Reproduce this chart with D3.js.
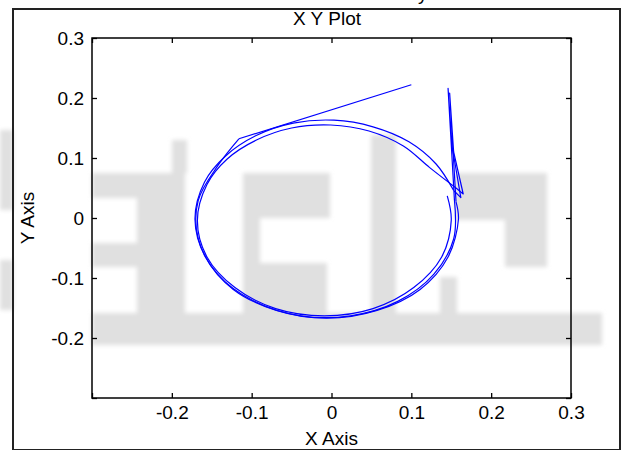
<!DOCTYPE html>
<html>
<head>
<meta charset="utf-8">
<script src="https://cdn.jsdelivr.net/npm/d3@7/dist/d3.min.js"></script>
<style>
    body { margin: 0; background: #fff; }
    svg { display: block; }
    text { font-family: "Liberation Sans", Arial, sans-serif; fill: #000; }
</style>
</head>
<body>
<div id="chart"></div>
<script>
// Chart text
const titleText = "X Y Plot";
const xLabel = "X Axis";
const yLabel = "Y Axis";

// Tick values (the -0.3 ends get a tick but no label)
const xTicks = [-0.3, -0.2, -0.1, 0, 0.1, 0.2, 0.3];
const yTicks = [-0.3, -0.2, -0.1, 0, 0.1, 0.2, 0.3];

// Trajectory, piece by piece
// lead-in line
const leadX = [0.100, -0.116];
const leadY = [0.222, 0.132];
// first loop, down the left side and up to the spike
const loop1X = [-0.116, -0.142, -0.167, -0.167, -0.143, -0.098, -0.039, 0.024, 0.083, 0.128, 0.153, 0.154];
const loop1Y = [0.132, 0.088, 0.029, -0.034, -0.093, -0.138, -0.163, -0.163, -0.139, -0.094, -0.035, 0.030];
// first spike
const spike1X = [0.154, 0.146, 0.151, 0.162, 0.153];
const spike1Y = [0.030, 0.216, 0.120, 0.034, 0.046];
// second (outer) loop
const loop2X = [0.153, 0.131, 0.097, 0.052, 0.003, -0.048, -0.095, -0.133, -0.159, -0.171, -0.158, -0.123, -0.069, -0.006, 0.057, 0.111, 0.146, 0.159, 0.156];
const loop2Y = [0.046, 0.090, 0.127, 0.152, 0.163, 0.158, 0.137, 0.103, 0.060, -0.002, -0.065, -0.119, -0.154, -0.167, -0.154, -0.119, -0.065, -0.002, 0.027];
// second spike
const spike2X = [0.156, 0.148, 0.153, 0.165, 0.156];
const spike2Y = [0.027, 0.208, 0.110, 0.040, 0.050];
// third (inner) loop
const loop3X = [0.156, 0.123, 0.090, 0.047, -0.001, -0.050, -0.094, -0.131, -0.156, -0.168, -0.156, -0.121, -0.070, -0.009, 0.052, 0.103, 0.138, 0.150, 0.145];
const loop3Y = [0.050, 0.084, 0.120, 0.145, 0.155, 0.150, 0.130, 0.098, 0.056, -0.004, -0.065, -0.116, -0.151, -0.163, -0.151, -0.116, -0.065, -0.004, 0.037];

// Faint scanned watermark behind the plot, in page pixels [x, y, w, h]
const watermarkBlocks = [
    [0, 130, 13, 80], [0, 260, 13, 50],
    [92, 173, 93, 25], [137, 198, 48, 115], [92, 243, 45, 24], [172, 140, 15, 33],
    [243, 173, 87, 45], [243, 218, 17, 95], [260, 263, 67, 50],
    [371, 135, 25, 178],
    [455, 173, 92, 47], [505, 220, 42, 47], [440, 277, 17, 36],
    [92, 313, 510, 32]
];

const width = 624, height = 450;
const plot = { left: 92, top: 38, right: 571, bottom: 398 };

const svg = d3.select("#chart")
    .append("svg")
    .attr("width", width)
    .attr("height", height);

// blur for the watermark edges
const defs = svg.append("defs");
defs.append("filter").attr("id", "soft")
    .append("feGaussianBlur").attr("stdDeviation", 2);

svg.append("g")
    .attr("filter", "url(#soft)")
    .selectAll("rect")
    .data(watermarkBlocks)
    .join("rect")
    .attr("x", d => d[0]).attr("y", d => d[1])
    .attr("width", d => d[2]).attr("height", d => d[3])
    .attr("fill", "#e0e0e0");

// Outer frame of the figure
svg.append("rect")
    .attr("x", 13).attr("y", 9)
    .attr("width", 607).attr("height", 441)
    .attr("fill", "none")
    .attr("stroke", "#222")
    .attr("stroke-width", 2);

// Cut-off glyph from the text above the figure
svg.append("text")
    .attr("x", 418).attr("y", 0)
    .style("font-size", "19px")
    .text("y");

// Scales
const x = d3.scaleLinear().domain([-0.3, 0.3]).range([plot.left, plot.right]);
const y = d3.scaleLinear().domain([-0.3, 0.3]).range([plot.bottom, plot.top]);

const fmt = d => (d <= -0.3 ? "" : String(+d.toFixed(1)));

function styleAxis(g) {
    g.select(".domain").remove();
    g.selectAll(".tick line").attr("stroke", "#000").attr("stroke-width", 1.3);
    g.selectAll(".tick text").style("font-size", "19px").attr("fill", "#000");
}

svg.append("g")
    .attr("transform", `translate(0,${plot.bottom})`)
    .call(d3.axisBottom(x).tickValues(xTicks).tickFormat(fmt).tickSize(-5).tickPadding(8))
    .call(styleAxis);

svg.append("g")
    .attr("transform", `translate(0,${plot.top})`)
    .call(d3.axisTop(x).tickValues(xTicks).tickFormat("").tickSize(-5))
    .call(styleAxis);

svg.append("g")
    .attr("transform", `translate(${plot.left},0)`)
    .call(d3.axisLeft(y).tickValues(yTicks).tickFormat(fmt).tickSize(-5).tickPadding(8))
    .call(styleAxis);

svg.append("g")
    .attr("transform", `translate(${plot.right},0)`)
    .call(d3.axisRight(y).tickValues(yTicks).tickFormat("").tickSize(-5))
    .call(styleAxis);

// Axes box
svg.append("rect")
    .attr("x", plot.left).attr("y", plot.top)
    .attr("width", plot.right - plot.left)
    .attr("height", plot.bottom - plot.top)
    .attr("fill", "none")
    .attr("stroke", "#000")
    .attr("stroke-width", 1.5);

// The trajectory: straight pieces for the lead-in and spikes, smooth loops
const zip = (xs, ys) => xs.map((v, i) => [v, ys[i]]);
const segments = [
    { pts: zip(leadX, leadY), smooth: false },
    { pts: zip(loop1X, loop1Y), smooth: true },
    { pts: zip(spike1X, spike1Y), smooth: false },
    { pts: zip(loop2X, loop2Y), smooth: true },
    { pts: zip(spike2X, spike2Y), smooth: false },
    { pts: zip(loop3X, loop3Y), smooth: true }
];

const smoothLine = d3.line()
    .x(d => x(d[0])).y(d => y(d[1]))
    .curve(d3.curveCatmullRom.alpha(0.5));
const straightLine = d3.line()
    .x(d => x(d[0])).y(d => y(d[1]));

svg.append("g")
    .selectAll("path")
    .data(segments)
    .join("path")
    .attr("d", d => (d.smooth ? smoothLine : straightLine)(d.pts))
    .attr("fill", "none")
    .attr("stroke", "#0000ff")
    .attr("stroke-width", 1.2)
    .attr("stroke-linejoin", "round");

// Title and axis labels
svg.append("text")
    .attr("x", 327).attr("y", 25)
    .attr("text-anchor", "middle")
    .style("font-size", "19px")
    .text(titleText);

svg.append("text")
    .attr("x", (plot.left + plot.right) / 2).attr("y", 445)
    .attr("text-anchor", "middle")
    .style("font-size", "19px")
    .text(xLabel);

svg.append("text")
    .attr("transform", `translate(34,${(plot.top + plot.bottom) / 2}) rotate(-90)`)
    .attr("text-anchor", "middle")
    .style("font-size", "19px")
    .text(yLabel);
</script>
</body>
</html>
